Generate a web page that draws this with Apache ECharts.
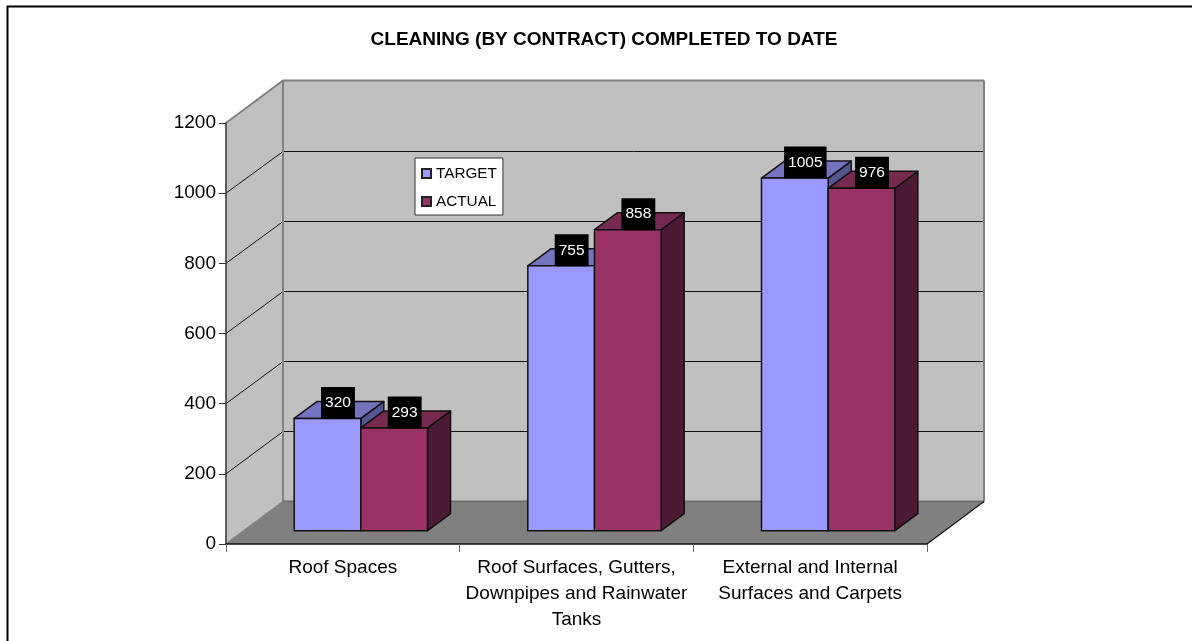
<!DOCTYPE html>
<html>
<head>
<meta charset="utf-8">
<style>
  html, body { margin: 0; padding: 0; background: #fff; }
  #chart { width: 1192px; height: 641px; }
</style>
<script src="https://cdn.jsdelivr.net/npm/echarts@6/dist/echarts.min.js"></script>
</head>
<body>
<div id="chart"></div>
<script>
const titleText = 'CLEANING (BY CONTRACT) COMPLETED TO DATE'
const categories = ['Roof Spaces', 'Roof Surfaces, Gutters,\nDownpipes and Rainwater\nTanks', 'External and Internal\nSurfaces and Carpets']
const targetValues = [320, 755, 1005]
const actualValues = [293, 858, 976]
const yTicks = [0, 200, 400, 600, 800, 1000, 1200]

// depth of the fake 3d box, in pixels
const depthX = 57
const depthY = 42.5
// where the bars stand on the floor and how deep they are
const barOffsetX = 18
const barOffsetY = 13.3
const barDepthX = 23
const barDepthY = 17
const barShare = 0.2854 // bar width against one category band

const FONT = '"Liberation Sans", Arial, sans-serif'

const chart = echarts.init(document.getElementById('chart'))

function poly (points, fill, z2) {
  return {
    type: 'polygon',
    z2: z2 || 0,
    shape: { points: points },
    style: { fill: fill, stroke: null }
  }
}

function line (x1, y1, x2, y2, color, width, z2) {
  return {
    type: 'line',
    z2: z2 || 1,
    shape: { x1: x1, y1: y1, x2: x2, y2: y2 },
    style: { stroke: color, lineWidth: width }
  }
}

// side wall, back wall, floor and their grid lines
function renderScene (params, api) {
  const rect = params.coordSys
  const left = rect.x
  const right = rect.x + rect.width
  const y0 = api.coord([0, 0])[1]
  const yMax = api.coord([0, yTicks[yTicks.length - 1]])[1]
  const backL = left + depthX
  const backR = right + depthX
  const children = [
    poly([[left, yMax], [backL, yMax - depthY], [backL, y0 - depthY], [left, y0]], '#c0c0c0'),
    poly([[backL, yMax - depthY], [backR, yMax - depthY], [backR, y0 - depthY], [backL, y0 - depthY]], '#c0c0c0'),
    poly([[left, y0], [backL, y0 - depthY], [backR, y0 - depthY], [right, y0]], '#808080')
  ]
  yTicks.slice(1, -1).forEach((v) => {
    const y = api.coord([0, v])[1]
    // snap to a pixel row so the line stays crisp and dark
    const yBack = Math.round(y - depthY) + 0.5
    children.push(line(left, y, backL, yBack, '#111', 1))
    children.push(line(backL, yBack, backR, yBack, '#111', 1))
  })
  children.push(line(left, yMax, backL, yMax - depthY, '#808080', 2))
  children.push(line(backL, yMax - depthY, backR, yMax - depthY, '#808080', 2))
  children.push(line(backL, yMax - depthY, backL, y0 - depthY, '#808080', 2))
  children.push(line(backR, yMax - depthY, backR, y0 - depthY, '#808080', 2))
  children.push(line(backL, y0 - depthY, backR, y0 - depthY, '#6e6e6e', 2))
  children.push(line(left, y0, backL, y0 - depthY, '#808080', 1.5))
  children.push(line(right, y0, backR, y0 - depthY, '#111', 1.2))
  return { type: 'group', children: children }
}

// one 3d bar: front, top and side faces plus the black value label
function makeBarRenderer (seriesIndex, front, top, side) {
  return function (params, api) {
    const idx = api.value(0)
    const val = api.value(1)
    const bandW = api.size([1, 0])[0]
    const w = bandW * barShare
    const center = api.coord([idx, 0])[0] + barOffsetX
    const x0 = center + (seriesIndex === 0 ? -w : 0)
    const x1 = x0 + w
    const yb = api.coord([idx, 0])[1] - barOffsetY
    const yt = api.coord([idx, val])[1] - barOffsetY
    const faceStyle = (fill) => ({ fill: fill, stroke: '#111', lineWidth: 1.5, lineJoin: 'round' })
    return {
      type: 'group',
      children: [
        { type: 'polygon', shape: { points: [[x1, yb], [x1 + barDepthX, yb - barDepthY], [x1 + barDepthX, yt - barDepthY], [x1, yt]] }, style: faceStyle(side) },
        { type: 'polygon', shape: { points: [[x0, yt], [x0 + barDepthX, yt - barDepthY], [x1 + barDepthX, yt - barDepthY], [x1, yt]] }, style: faceStyle(top) },
        { type: 'rect', shape: { x: x0, y: yt, width: w, height: yb - yt }, style: faceStyle(front) },
        {
          type: 'text',
          z2: 10,
          x: x0 + w / 2 + 10.5,
          y: yt + 0.5,
          style: {
            text: String(val),
            font: '15.5px ' + FONT,
            fill: '#fff',
            align: 'center',
            verticalAlign: 'bottom',
            backgroundColor: '#000',
            padding: [8, 4, 8, 4]
          }
        }
      ]
    }
  }
}

function barData (values) {
  return values.map((v, i) => [i, v])
}

const option = {
  animation: false,
  backgroundColor: '#fff',
  title: {
    text: titleText,
    left: 599,
    top: 25,
    textAlign: 'center',
    textStyle: { fontFamily: FONT, fontSize: 19, fontWeight: 'bold', color: '#000' }
  },
  legend: {
    orient: 'vertical',
    left: 415,
    top: 158,
    padding: [8, 6, 6, 6],
    itemWidth: 9,
    itemHeight: 9,
    itemGap: 13,
    icon: 'rect',
    backgroundColor: '#fff',
    borderColor: '#333',
    borderWidth: 1,
    selectedMode: false,
    data: ['TARGET', 'ACTUAL'],
    textStyle: { fontFamily: FONT, fontSize: 15.3, color: '#000' }
  },
  grid: { left: 226, right: 265, top: 123, bottom: 97 },
  xAxis: {
    type: 'category',
    z: 10,
    data: categories,
    axisLine: { lineStyle: { color: '#111', width: 1.5 } },
    axisTick: { show: true, length: 8, lineStyle: { color: '#666' } },
    axisLabel: { fontFamily: FONT, fontSize: 19, color: '#000', lineHeight: 26, margin: 11, interval: 0 },
    splitLine: { show: false }
  },
  yAxis: {
    type: 'value',
    z: 10,
    min: 0,
    max: 1200,
    interval: 200,
    axisLine: { show: true, lineStyle: { color: '#333', width: 1.5 } },
    axisTick: { show: true, length: 7, lineStyle: { color: '#333' } },
    axisLabel: { fontFamily: FONT, fontSize: 19, color: '#000', margin: 10, formatter: (v) => String(v) },
    splitLine: { show: false }
  },
  series: [
    { type: 'custom', name: 'scene', silent: true, z: 1, renderItem: renderScene, data: [[0, 0]], clip: false },
    {
      type: 'custom',
      name: 'TARGET',
      z: 2,
      renderItem: makeBarRenderer(0, '#9999ff', '#7373c0', '#55558f'),
      itemStyle: { color: '#9999ff', borderColor: '#222', borderWidth: 1.5 },
      data: barData(targetValues),
      clip: false
    },
    {
      type: 'custom',
      name: 'ACTUAL',
      z: 3,
      renderItem: makeBarRenderer(1, '#993366', '#772a50', '#4d1a33'),
      itemStyle: { color: '#993366', borderColor: '#222', borderWidth: 1.5 },
      data: barData(actualValues),
      clip: false
    }
  ],
  graphic: [
    {
      type: 'rect',
      silent: true,
      // the frame runs off the right and bottom of the picture
      shape: { x: 7.5, y: 6.5, width: 1300, height: 800 },
      style: { fill: 'transparent', stroke: '#000', lineWidth: 2 }
    }
  ]
}

chart.setOption(option)
</script>
</body>
</html>
